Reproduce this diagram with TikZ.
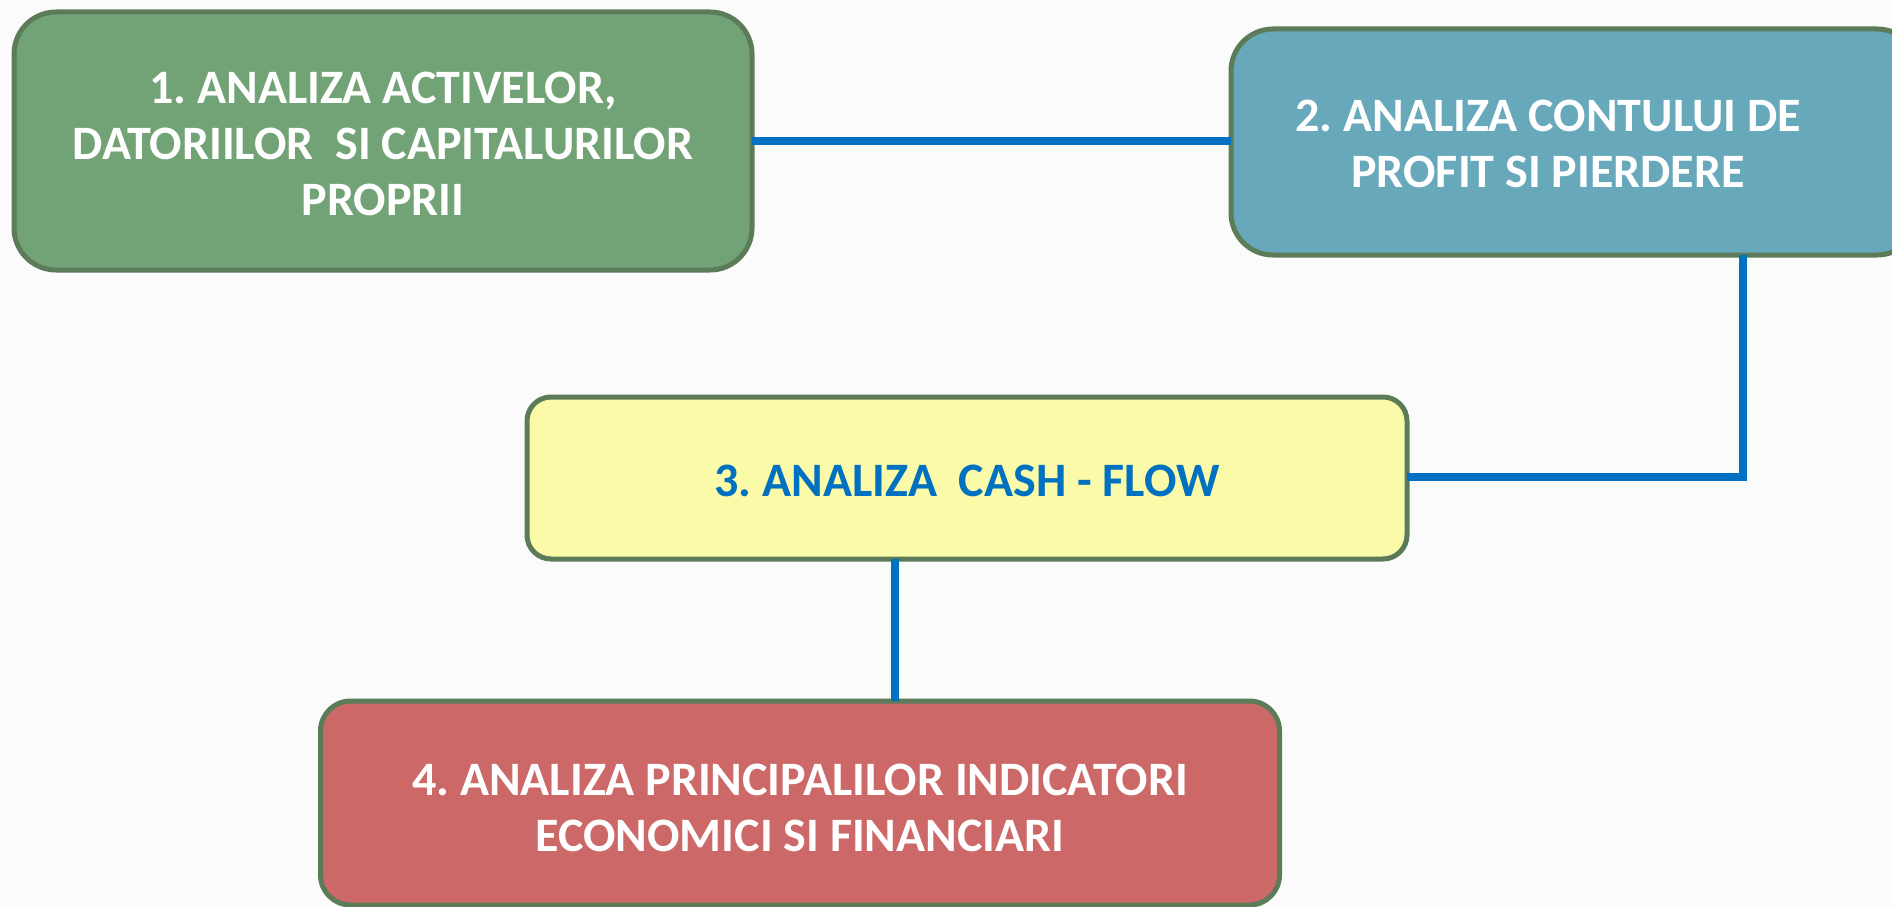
\documentclass[tikz,border=0pt]{standalone}
\usepackage{fontspec}
\setmainfont{Carlito}
\frenchspacing
\definecolor{gfill}{HTML}{72A377}
\definecolor{bfill}{HTML}{67A8BB}
\definecolor{yfill}{HTML}{FAFAA8}
\definecolor{rfill}{HTML}{CD6868}
\definecolor{bord}{HTML}{5B7B59}
\definecolor{conn}{HTML}{0070C0}
\definecolor{bgc}{HTML}{FBFBFB}
\newcommand{\boxtext}[2]{\raisebox{-#1}[\height][\depth]{\begin{tabular}{@{}c@{}}#2\end{tabular}}}
\begin{document}
\begin{tikzpicture}[x=1pt,y=-1pt,
  boxstyle/.style={draw=bord, line width=5pt, rounded corners=#1, inner sep=0pt, outer sep=0pt,
    align=center, text=white, font=\fontsize{48}{56}\selectfont\bfseries},
  boxstyle/.default=40pt,
  link/.style={draw=conn, line width=8pt}]
\useasboundingbox (0,0) rectangle (1892,907);
\fill[bgc] (0,0) rectangle (1892,907);
\node[boxstyle=42pt, fill=gfill, minimum width=738pt, minimum height=258pt] (b1) at (383,141)
  {\boxtext{7pt}{1. ANALIZA ACTIVELOR,\\DATORIILOR~~SI CAPITALURILOR\\PROPRII}};
\node[boxstyle=42pt, fill=bfill, minimum width=688pt, minimum height=226pt] (b2) at (1575,142)
  {\boxtext{6pt}{2. ANALIZA CONTULUI DE\\PROFIT SI PIERDERE}\hspace*{54pt}};
\node[boxstyle=24pt, fill=yfill, text=conn, minimum width=880pt, minimum height=162pt] (b3) at (967,478)
  {\boxtext{7pt}{3. ANALIZA~~CASH - FLOW}};
\node[boxstyle=30pt, fill=rfill, minimum width=959pt, minimum height=204pt] (b4) at (800,803)
  {\boxtext{9pt}{4. ANALIZA PRINCIPALILOR INDICATORI\\ECONOMICI SI FINANCIARI}};
\coordinate (c23) at (1743,477);
\coordinate (c34) at (895,630);
\draw[link] (b1.east) -- (b1.east -| b2.west);
\draw[link] (b2.south -| c23) -- (c23) -- (c23 -| b3.east);
\draw[link] (b3.south -| c34) -- (b4.north -| c34);
\end{tikzpicture}
\end{document}
